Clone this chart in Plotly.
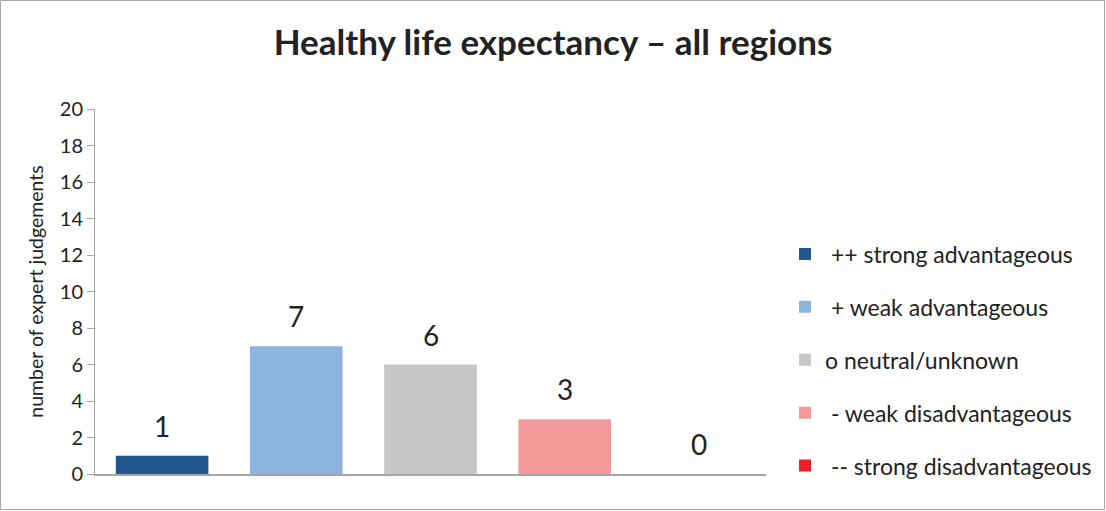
import plotly.graph_objects as go

categories = ["++ strong advantageous", "+ weak advantageous", "o neutral/unknown",
              "- weak disadvantageous", "-- strong disadvantageous"]
legend_names = [" ++ strong advantageous", " + weak advantageous", "o neutral/unknown",
                " - weak disadvantageous", " -- strong disadvantageous"]
values = [1, 7, 6, 3, 0]
colors = ["#235790", "#8DB3DF", "#C6C7C9", "#F4999A", "#EC2027"]
y_ticks = [0, 2, 4, 6, 8, 10, 12, 14, 16, 18, 20]

W, H = 1106, 511
ml, mr, mt, mb = 95, 340, 109, 37
pw, ph = W - ml - mr, H - mt - mb
FONT = "Lato"
TXT = "#222222"

fig = go.Figure()
for i, (c, n, v, col) in enumerate(zip(categories, legend_names, values, colors)):
    fig.add_trace(go.Bar(
        x=[c], y=[v], name=n,
        marker=dict(color=col, line=dict(width=0)),
        width=0.69,
        legendgroup=f"g{i}",
    ))

annotations = [dict(x=c, y=v, xref="x", yref="y", text=str(v), showarrow=False,
                    yshift=30, font=dict(size=28, family=FONT, color=TXT))
               for c, v in zip(categories, values)]

fig.update_layout(
    width=W, height=H,
    margin=dict(l=ml, r=mr, t=mt, b=mb, autoexpand=False),
    paper_bgcolor="white", plot_bgcolor="white",
    barmode="overlay",
    font=dict(family=FONT, color=TXT),
    title=dict(text="<b>Healthy life expectancy – all regions</b>",
               x=0.5, xref="container", xanchor="center",
               y=1 - 43 / H, yanchor="middle", yref="container",
               font=dict(size=35, family=FONT, color=TXT)),
    showlegend=True,
    legend=dict(x=(785 - ml) / pw, xanchor="left", y=(474 - 360) / ph, yanchor="middle",
                traceorder="grouped", tracegroupgap=20,
                font=dict(size=23, family=FONT, color=TXT),
                itemwidth=30, bgcolor="rgba(0,0,0,0)"),
    xaxis=dict(showticklabels=False, showline=True, linecolor="#A6A6A6", linewidth=1.5,
               ticks="", showgrid=False, zeroline=False, fixedrange=True),
    yaxis=dict(range=[0, 20], tickvals=y_ticks, showline=True, linecolor="#A6A6A6",
               linewidth=1, ticks="outside", ticklen=7, tickcolor="#A6A6A6",
               showgrid=False, zeroline=False,
               tickfont=dict(size=20, family=FONT, color=TXT),
               title=dict(text="number of expert judgements", standoff=10,
                          font=dict(size=19.5, family=FONT, color=TXT))),
    annotations=annotations,
    shapes=[dict(type="rect", xref="paper", yref="paper",
                 x0=(0.5 - ml) / pw, x1=(W - 1.5 - ml) / pw,
                 y0=-(mb - 1.5) / ph, y1=1 + (mt - 0.5) / ph,
                 line=dict(color="#A6A6A6", width=1))],
)

fig.write_html("out.html", config={"displayModeBar": False},
               post_script="document.body.style.margin='0';document.body.style.overflow='hidden';")
